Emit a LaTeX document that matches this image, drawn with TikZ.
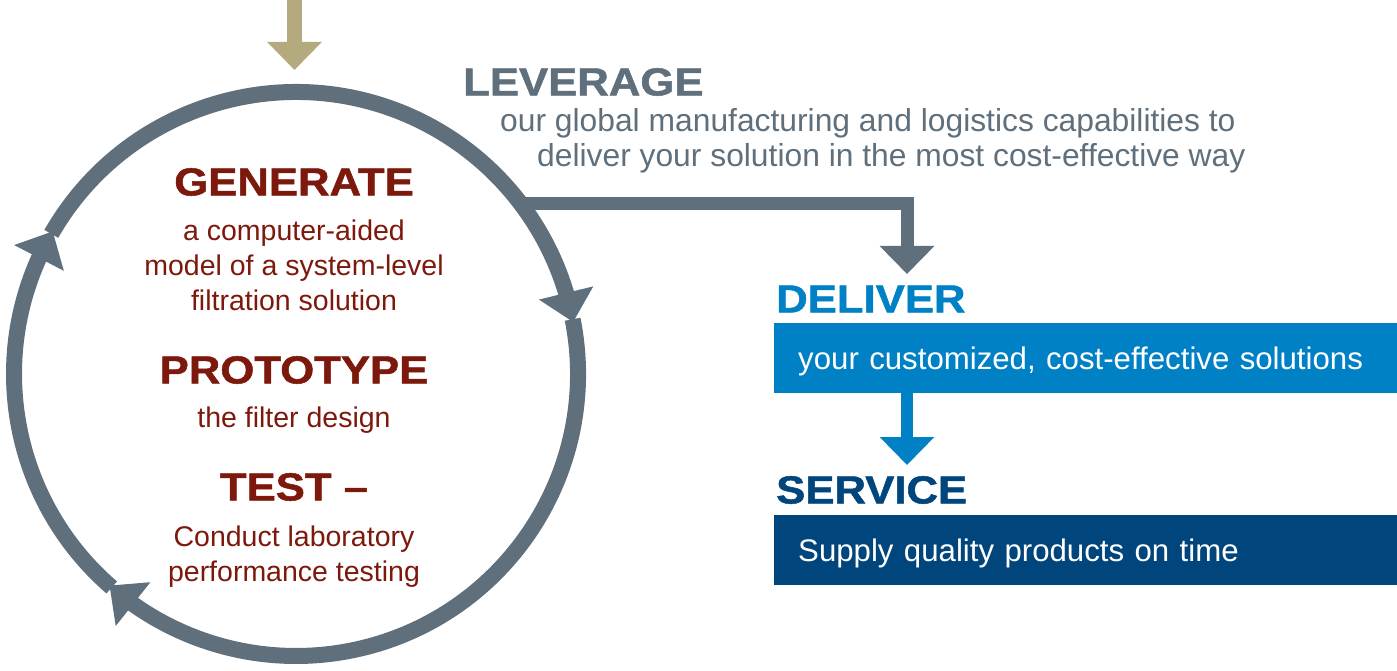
\documentclass[tikz,border=0pt]{standalone}
\usepackage{fontspec}
\setmainfont{Liberation Sans}
\newfontfamily\headfont{Liberation Sans Bold}[FakeStretch=1.12,FakeBold=1.3]
\usetikzlibrary{arrows.meta,bending}
\definecolor{ringgray}{RGB}{95,111,123}
\definecolor{sand}{RGB}{181,170,125}
\definecolor{brick}{RGB}{125,25,12}
\definecolor{delblue}{RGB}{0,129,198}
\definecolor{navy}{RGB}{0,69,123}
\tikzset{
    ring/.style={line width=16pt, ringgray, -{Triangle[width=54pt,length=30pt]}},
    flow/.style={line width=13pt, -{Triangle[width=53pt,length=28pt]}},
    heading/.style={font=\headfont\fontsize{39}{39}\selectfont, inner sep=0pt},
    body/.style={font=\fontsize{28.5}{35}\selectfont, text=brick, align=center, inner sep=0pt},
    side/.style={font=\fontsize{31.8}{35}\selectfont, align=left, inner sep=0pt},
    band/.style={font=\fontsize{31.2}{35}\selectfont, text width=575pt, align=left,
        text height=23pt, text depth=0pt,
        inner xsep=24pt, inner ysep=0pt, minimum height=70pt, text=white, anchor=west}
}
\begin{document}
\begin{tikzpicture}[x=1pt,y=1pt]
    \useasboundingbox (0,0) rectangle (1397,670);
    \coordinate (c) at (296,296);
    \coordinate (feed) at (294.5,670);
    \coordinate (feedend) at (294.5,600);
    \draw[flow, sand, line width=15pt] (feed) -- (feedend);
    % the cycle
    \path (c) ++(37.3:282pt) coordinate (lev);
    \coordinate (levend) at (907,396);
    \draw[flow, ringgray] (lev) -| (levend);
    \draw[ring] (c) ++(150.2:282pt) arc[start angle=150.2, end angle=10.6, radius=282pt];
    \draw[ring] (c) ++(11.2:282pt) arc[start angle=11.2, end angle=-131.4, radius=282pt];
    \draw[ring] (c) ++(229.2:282pt) arc[start angle=229.2, end angle=149.6, radius=282pt];
    \node[heading, brick] (generate) at (294,488) {GENERATE};
    \node[body, anchor=north] (gentext) at (294,450) {a computer-aided\\model of a system-level\\filtration solution};
    \node[heading, brick] (prototype) at (294,300) {PROTOTYPE};
    \node[body, anchor=base] (prototext) at (294,243) {the filter design};
    \node[heading, brick] (test) at (294,183) {TEST –};
    \node[body, anchor=north] (testtext) at (294,144) {Conduct laboratory\\performance testing};
    \node[heading, ringgray, anchor=west] (leverage) at (463,588) {LEVERAGE};
    \node[side, ringgray, anchor=north west] (levtext) at (500,562) {our global manufacturing and logistics capabilities to\\\hspace*{37pt}deliver your solution in the most cost-effective way};
    \node[heading, delblue, anchor=west] (deliver) at (776,371) {DELIVER};
    \node[band, fill=delblue] (delbox) at (774,312) {your customized, cost-effective solutions};
    \node[heading, navy, anchor=west] (service) at (776,180) {SERVICE};
    \node[band, fill=navy] (servbox) at (774,120) {Supply quality products on time};
    \coordinate (servend) at (907,205);
    \draw[flow, delblue, line width=12pt] (delbox.south -| servend) -- (servend);
\end{tikzpicture}
\end{document}
